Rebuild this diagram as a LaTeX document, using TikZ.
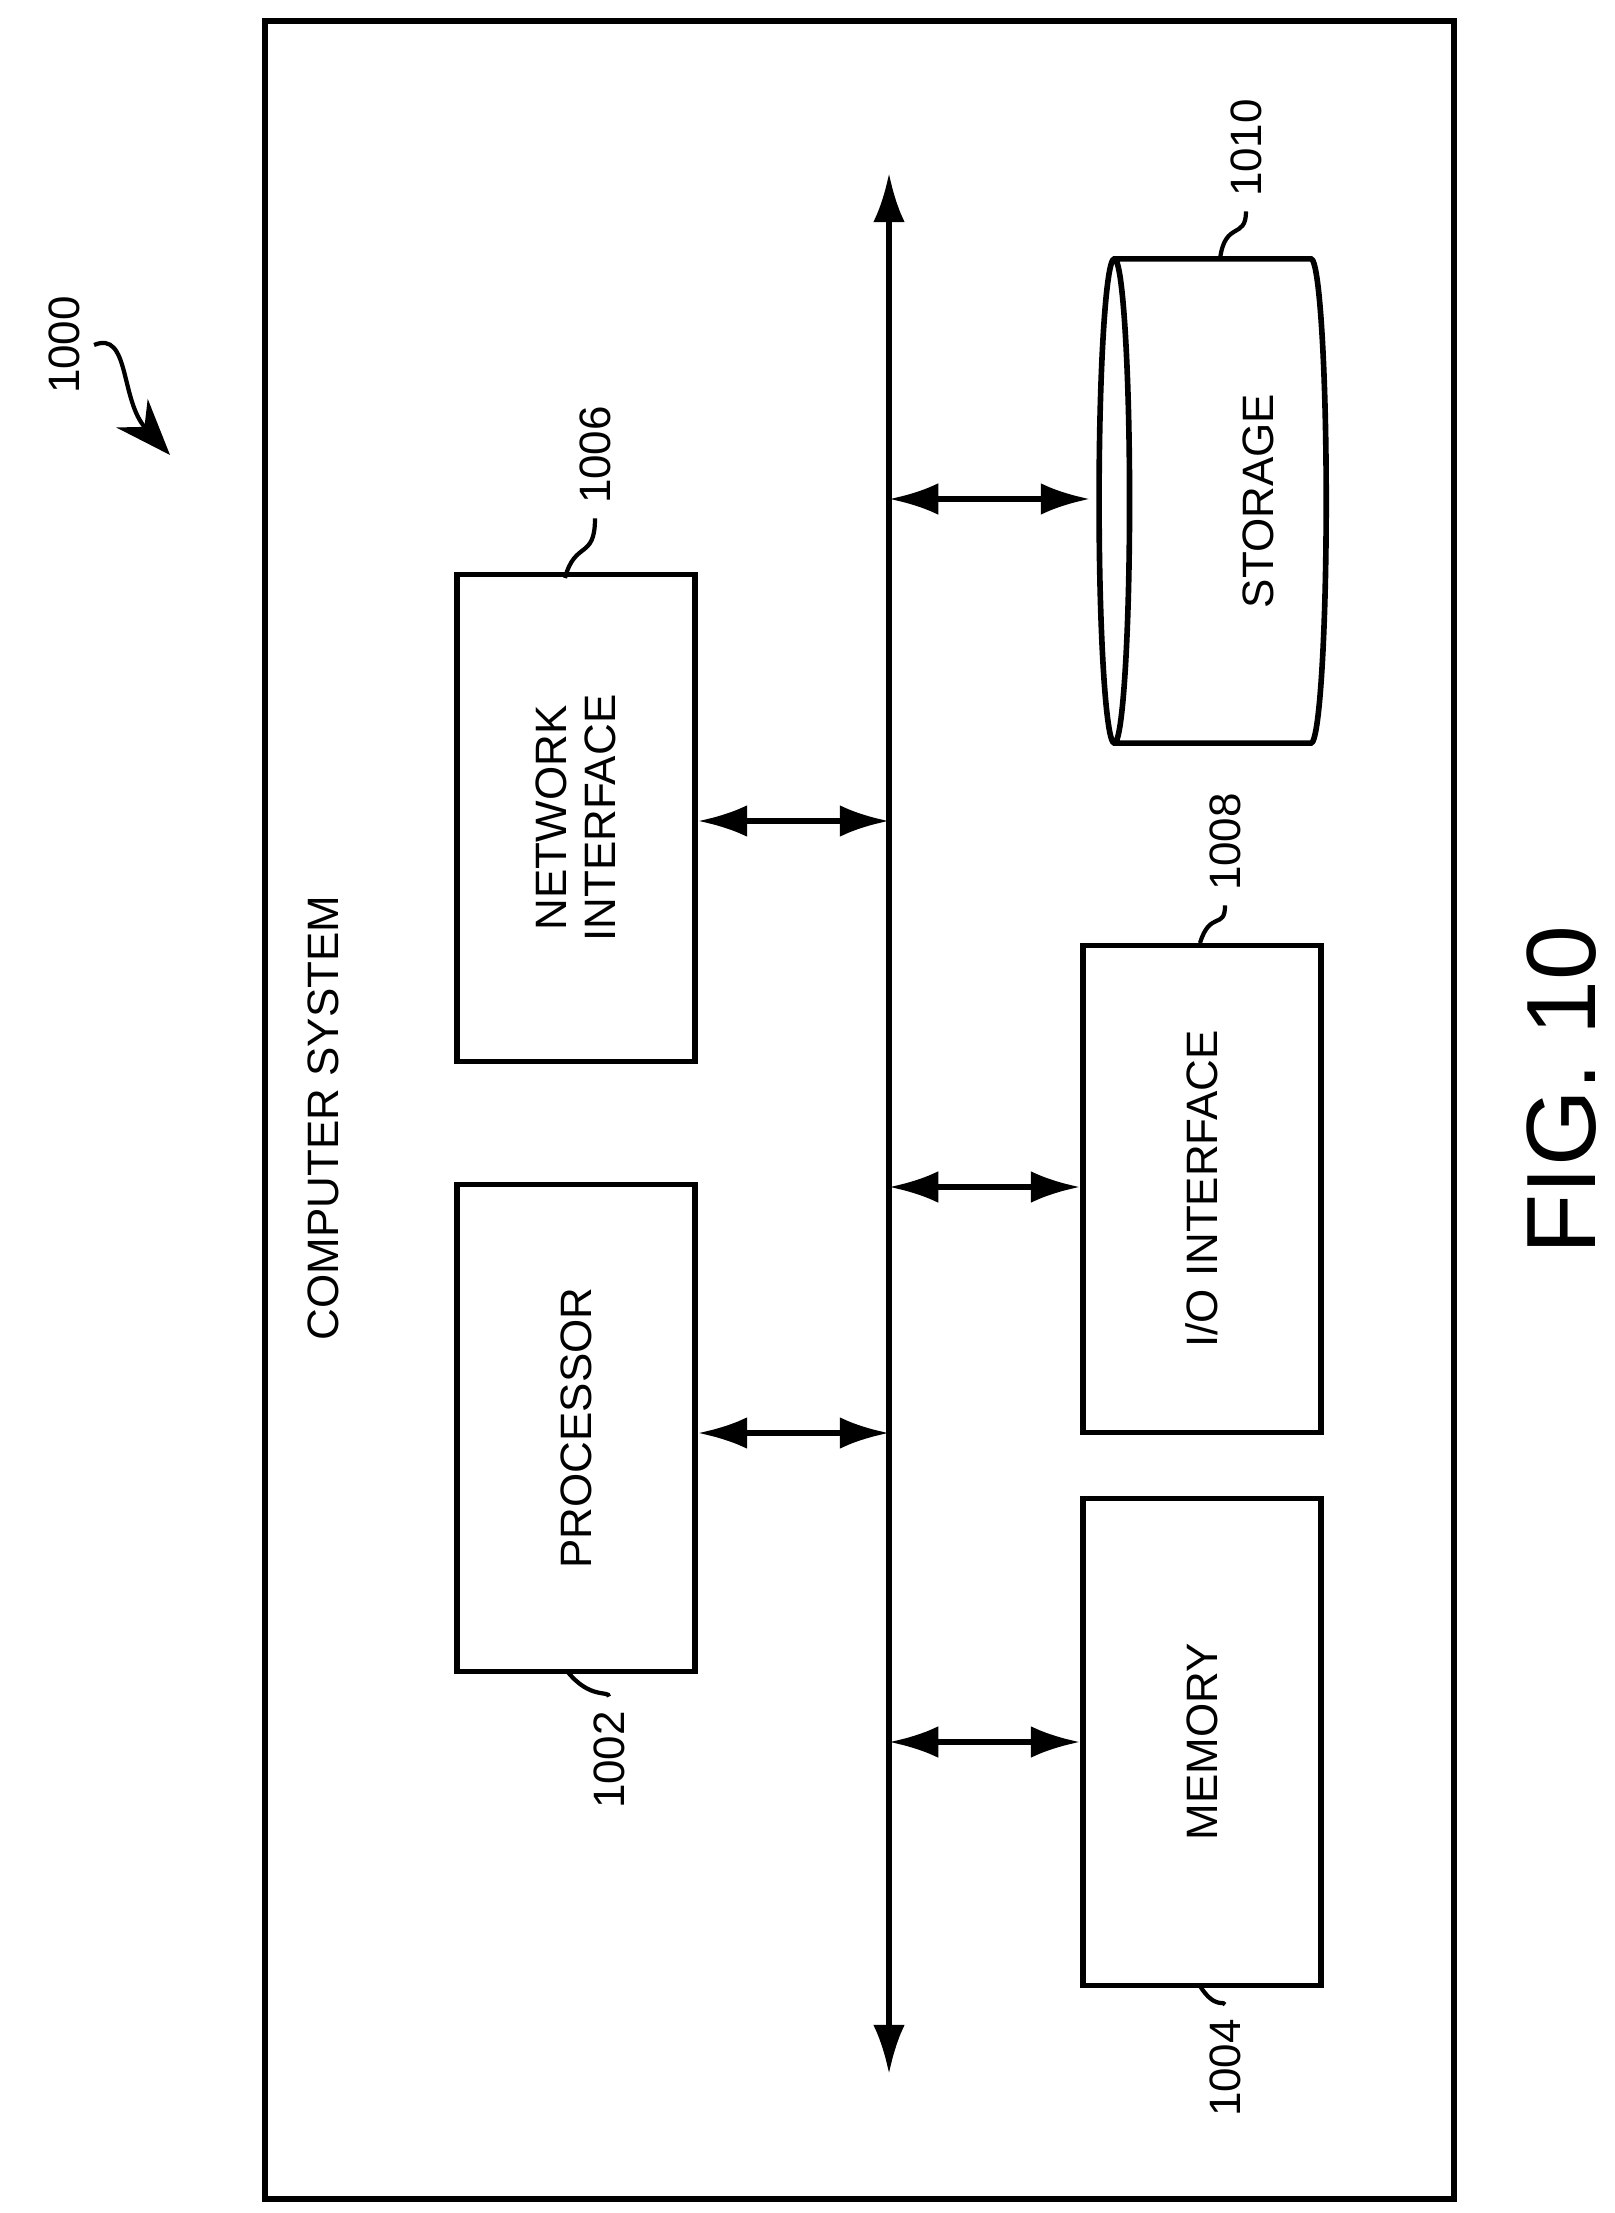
\documentclass[tikz,border=0pt]{standalone}
\usepackage{fontspec}
\setmainfont{Liberation Sans}
\usetikzlibrary{arrows.meta,shapes.geometric}
\tikzset{
	every path/.style={line width=1.6pt},
	block/.style={draw, rectangle, minimum width=2.38cm, minimum height=4.87cm,
		align=center},
	txt/.style={rotate=90, font=\fontsize{12.5}{14}\selectfont, align=center},
	bus/.style={{Latex[length=14pt,width=9pt]}-{Latex[length=14pt,width=9pt]}},
	lead/.style={line width=1.2pt},
}
\begin{document}
\begin{tikzpicture}[x=0.01cm,y=-0.01cm]
\useasboundingbox (0,0) rectangle (1614,2213);
% frame
\draw (265,21) rectangle (1454,2199);
\node[txt] (title) at (323,1118) {COMPUTER SYSTEM};
% bus
\coordinate (btop) at (889,173);
\coordinate (bbot) at (889,2074);
\draw[bus] (btop) -- (bbot);
% blocks
\node[block] (proc) at (576,1428) {};
\node[txt] at (proc) {PROCESSOR};
\node[block] (net) at (576,818) {};
\node[txt] at (net) {NETWORK\\INTERFACE};
\node[block] (io) at (1202,1189) {};
\node[txt] at (io) {I/O INTERFACE};
\node[block] (mem) at (1202,1742) {};
\node[txt] at (mem) {MEMORY};
\node[draw, cylinder, shape border rotate=180, aspect=1.3,
	minimum width=4.84cm, minimum height=2.27cm] (stor) at (1224,501) {};
\node[txt] at (1258,501) {STORAGE};
% links to bus
\draw[bus] (proc.east |- 0,1433) -- (889,1433);
\draw[bus] (net.east |- 0,821) -- (889,821);
\draw[bus] (889,1187) -- (io.west |- 0,1187);
\draw[bus] (889,1742) -- (mem.west |- 0,1742);
\draw[bus] (889,499) -- (1090,499);
% reference numbers
\node[txt] (n1000) at (64,345) {1000};
\draw[lead,-{Stealth[length=16pt,width=12pt]}] (n1000.south) .. controls (130,330) and (120,400) .. (170,455);
\node[txt] (n1002) at (609,1760) {1002};
\draw[lead] (567,1671) .. controls (590,1700) and (609,1690) .. (n1002.east);
\node[txt] (n1004) at (1225,2068) {1004};
\draw[lead] (1200,1986) .. controls (1215,2010) and (1225,2000) .. (n1004.east);
\node[txt] (n1006) at (595,455) {1006};
\draw[lead] (565,578) .. controls (575,540) and (595,560) .. (n1006.west);
\node[txt] (n1008) at (1225,842) {1008};
\draw[lead] (1200,943) .. controls (1210,910) and (1225,930) .. (n1008.west);
\node[txt] (n1010) at (1246,148) {1010};
\draw[lead] (1220,259) .. controls (1225,220) and (1246,240) .. (n1010.west);
\node[rotate=90, font=\fontsize{28}{32}\selectfont] (fig) at (1562,1090) {FIG. 10};
\end{tikzpicture}
\end{document}
